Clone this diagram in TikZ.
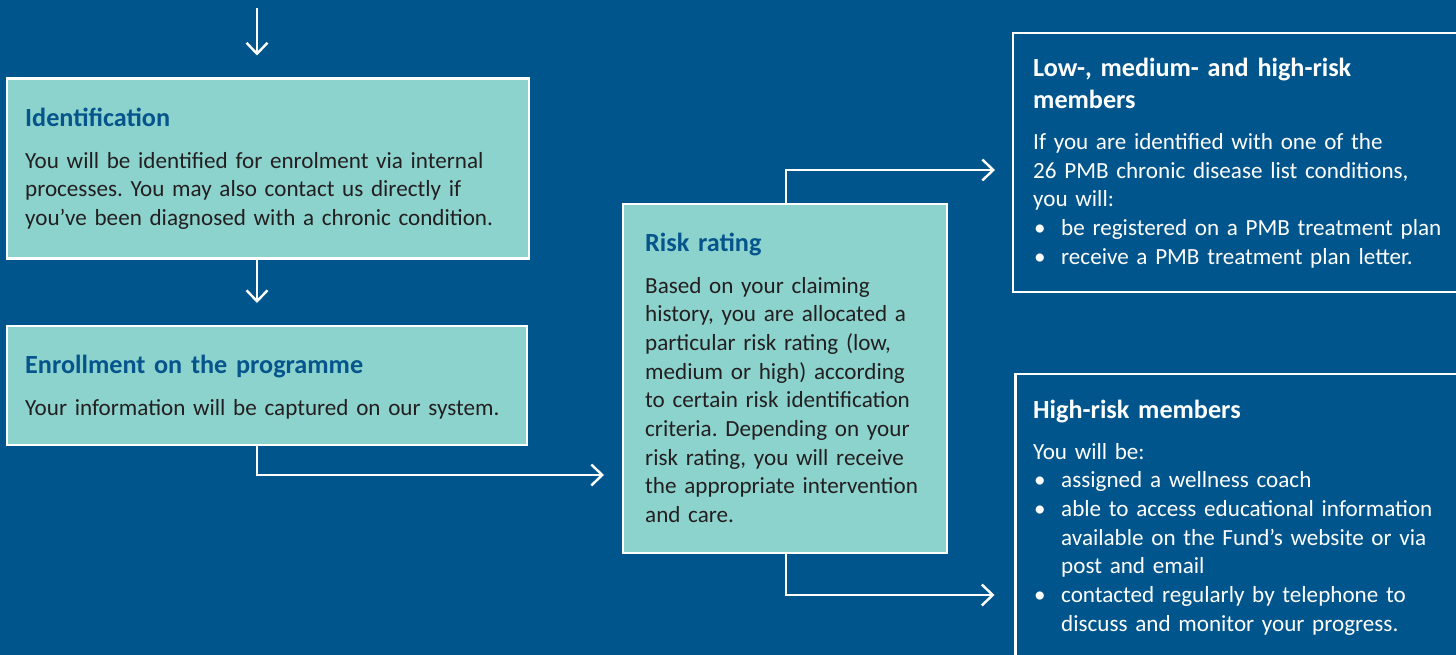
\documentclass[tikz,border=0pt]{standalone}
\usepackage{fontspec}
\setmainfont{Carlito}
\usetikzlibrary{arrows.meta,calc}
\definecolor{bgblue}{RGB}{0,86,140}
\definecolor{tealc}{RGB}{140,211,205}
\definecolor{titleblue}{RGB}{5,84,140}
\definecolor{bodytext}{RGB}{35,31,32}
\frenchspacing
\newcommand\bitem{\par\noindent\hangindent=28bp\hangafter=1\makebox[28bp][l]{\hspace{1bp}\textbullet}}
\tikzset{
  tealbox/.style={draw=white, line width=2.2bp, fill=tealc, inner sep=0pt, outer sep=0pt, anchor=north west},
  bluebox/.style={draw=white, line width=2.2bp, inner sep=0pt, outer sep=0pt, anchor=north west},
  conn/.style={draw=white, line width=2.4bp, -{Straight Barb[length=11bp,width=21bp]}},
  ttl/.style={anchor=base west, inner sep=0pt, font=\fontsize{26.3}{32}\selectfont\bfseries\frenchspacing, align=left, text width=#1},
  ttl/.default=600bp,
  bodytxt/.style={anchor=base west, inner sep=0pt, font=\fontsize{23.2}{28.8}\selectfont\frenchspacing, align=left, text width=#1},
  bodytxt/.default=600bp
}
\begin{document}
\begin{tikzpicture}[x=1bp,y=-1bp]
\clip (0,0) rectangle (1456,655);
\fill[bgblue] (0,0) rectangle (1456,655);

% boxes
\node[tealbox, minimum width=522bp, minimum height=180bp] (ident) at (7,78.5) {};
\node[tealbox, minimum width=520bp, minimum height=119bp] (enrol) at (7,326) {};
\node[tealbox, minimum width=324bp, minimum height=349bp] (risk) at (623,204) {};
\node[bluebox, minimum width=480bp, minimum height=259bp] (low) at (1013,33) {};
\node[bluebox, minimum width=480bp, minimum height=320bp] (high) at (1015.5,374) {};

% texts
\node[ttl, text=titleblue] (identT) at (25,126.5) {Identification};
\node[bodytxt, text=bodytext] (identB) at (25,168) {You will be identified for enrolment via internal\\processes. You may also contact us directly if\\you’ve been diagnosed with a chronic condition.};

\node[ttl, text=titleblue] (enrolT) at (25,373.5) {Enrollment on the programme};
\node[bodytxt, text=bodytext] (enrolB) at (25,415) {Your information will be captured on our system.};

\node[ttl=400bp, text=titleblue] (riskT) at (645,251) {Risk rating};
\node[bodytxt=400bp, text=bodytext] (riskB) at (645,293) {Based on your claiming\\history, you are allocated a\\particular risk rating (low,\\medium or high) according\\to certain risk identification\\criteria. Depending on your\\risk rating, you will receive\\the appropriate intervention\\and care.};

\node[ttl=500bp, text=white] (lowT) at (1033,76.5) {Low-, medium- and high-risk\\members};
\node[bodytxt=500bp, text=white] (lowB) at (1033,149.5) {If you are identified with one of the\\26 PMB chronic disease list conditions,\\you will:
\bitem be registered on a PMB treatment plan
\bitem receive a PMB treatment plan letter.\par};

\node[ttl=500bp, text=white] (highT) at (1033,418.5) {High-risk members};
\node[bodytxt=500bp, text=white] (highB) at (1033,459) {You will be:
\bitem assigned a wellness coach
\bitem able to access educational information\newline available on the Fund’s website or via\newline post and email
\bitem contacted regularly by telephone to\newline discuss and monitor your progress.\par};

% connectors
\coordinate (top) at (257,8);
\coordinate (j1) at (257,475);
\coordinate (j2) at (786,170);
\coordinate (j3) at (786,595);
\draw[conn] (top) -- ([yshift=23bp]top |- ident.north);
\draw[conn] (ident.south -| top) -- ([yshift=23bp]enrol.north -| top);
\draw[conn] (enrol.south -| j1) -- (j1) -- ([xshift=-19bp]j1 -| risk.west);
\draw[conn] (risk.north -| j2) -- (j2) -- ([xshift=-18bp]j2 -| low.west);
\draw[conn] (risk.south -| j3) -- (j3) -- ([xshift=-21bp]j3 -| high.west);
\end{tikzpicture}
\end{document}
